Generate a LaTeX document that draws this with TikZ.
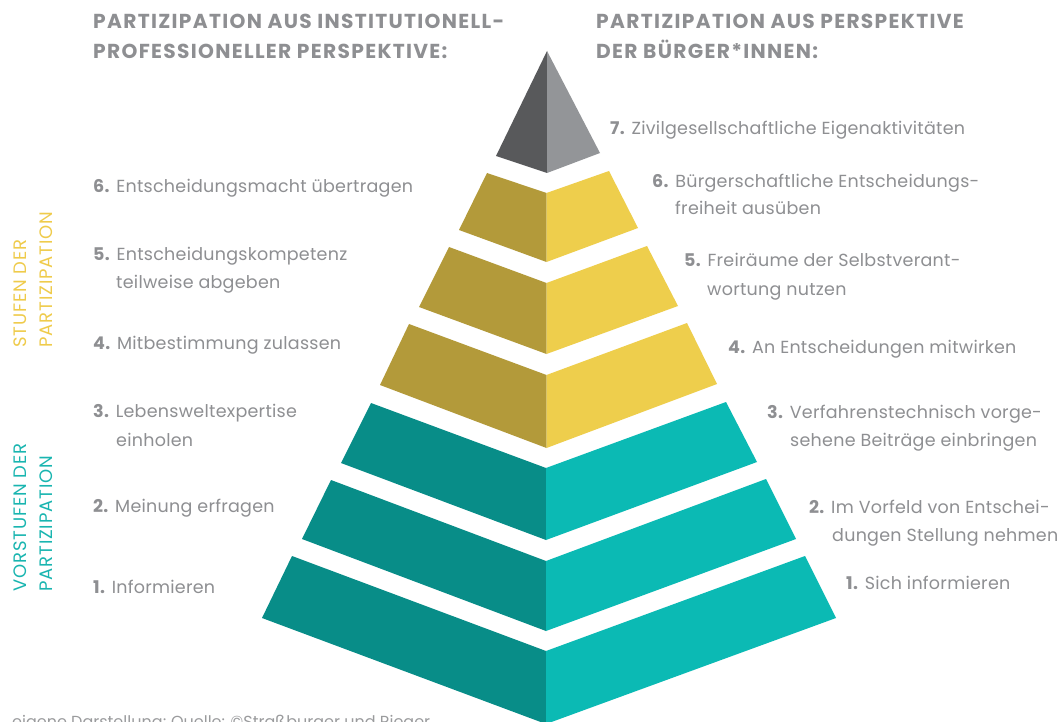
\documentclass[tikz,border=0pt]{standalone}
\usepackage{fontspec}
\setmainfont{Poppins}
\newfontfamily\bodyfont[LetterSpace=1.5]{Poppins}
\newfontfamily\headfont[LetterSpace=6.5]{Poppins}
\newfontfamily\sidefont[LetterSpace=5]{Poppins}
\definecolor{grayD}{HTML}{58595B}
\definecolor{grayL}{HTML}{939598}
\definecolor{goldD}{HTML}{B39A3A}
\definecolor{goldL}{HTML}{EECE4C}
\definecolor{tealD}{HTML}{088D88}
\definecolor{tealL}{HTML}{0BBAB4}
\definecolor{txtgray}{HTML}{8E8F92}
\definecolor{capgray}{HTML}{9A9B9D}
\definecolor{labyellow}{HTML}{EFCB4B}
\definecolor{labteal}{HTML}{19B5B0}
\begin{document}
\begin{tikzpicture}[x=1pt,y=-1pt,
  lab/.style={anchor=base west, inner sep=0pt, text=txtgray, font=\bodyfont\fontsize{17.5}{20}\selectfont},
  head/.style={anchor=base west, inner sep=0pt, text=txtgray, font=\headfont\fontsize{20.2}{22}\selectfont\bfseries},
  side/.style={anchor=base west, inner sep=0pt, rotate=90, font=\sidefont\fontsize{18}{20}\selectfont},
  captext/.style={anchor=base west, inner sep=0pt, text=capgray, font=\fontsize{16}{18}\selectfont}]
\useasboundingbox (0,0) rectangle (1061,722);
\fill[white] (0,0) rectangle (1061,722);
% apex
\fill[grayD] (547,51) -- (496,156) -- (547,173) -- cycle;
\fill[grayL] (547,51) -- (547,173) -- (600,153) -- cycle;
% tier 6
\fill[goldD] (487,173) -- (546.5,193) -- (546.5,262) -- (459,230) -- cycle;
\fill[goldL] (546.5,193) -- (609,171) -- (638,228) -- (546.5,262) -- cycle;
% tier 5
\fill[goldD] (449,247) -- (546.5,283) -- (546.5,354) -- (419,307) -- cycle;
\fill[goldL] (546.5,283) -- (647,246) -- (678,306) -- (546.5,354) -- cycle;
% tier 4
\fill[goldD] (409,324) -- (546.5,375) -- (546.5,448) -- (380,385) -- cycle;
\fill[goldL] (546.5,375) -- (687,323) -- (717,384) -- (546.5,448) -- cycle;
% tier 3
\fill[tealD] (371,403) -- (546,468) -- (546,540) -- (341,463) -- cycle;
\fill[tealL] (546,468) -- (726,402) -- (757,462) -- (546,540) -- cycle;
% tier 2
\fill[tealD] (331,480) -- (546,561) -- (546,631) -- (302,539) -- cycle;
\fill[tealL] (546,561) -- (766,479) -- (796,539) -- (546,631) -- cycle;
% tier 1
\fill[tealD] (292,556) -- (546,651) -- (546,724) -- (262,618) -- cycle;
\fill[tealL] (546,651) -- (805,556) -- (836,618) -- (546,724) -- cycle;
% headers
\node[head] (hl1) at (93,29) {PARTIZIPATION AUS INSTITUTIONELL-};
\node[head] (hl2) at (93,58.5) {PROFESSIONELLER PERSPEKTIVE:};
\node[head] (hr1) at (596,29) {PARTIZIPATION AUS PERSPEKTIVE};
\node[head] (hr2) at (596,58.5) {DER BÜRGER*INNEN:};
% left labels
\node[lab] (l6) at (93,193) {\textbf{6.} Entscheidungsmacht übertragen};
\node[lab] (l5a) at (93,261) {\textbf{5.} Entscheidungskompetenz};
\node[lab] (l5b) at (116,289) {teilweise abgeben};
\node[lab] (l4) at (93,349) {\textbf{4.} Mitbestimmung zulassen};
\node[lab] (l3a) at (93,417) {\textbf{3.} Lebensweltexpertise};
\node[lab] (l3b) at (116,446) {einholen};
\node[lab] (l2) at (93,512) {\textbf{2.} Meinung erfragen};
\node[lab] (l1) at (93,593) {\textbf{1.} Informieren};
% right labels
\node[lab] (r7) at (610,135) {\textbf{7.} Zivilgesellschaftliche Eigenaktivitäten};
\node[lab] (r6a) at (652,188) {\textbf{6.} Bürgerschaftliche Entscheidungs-};
\node[lab] (r6b) at (675,215) {freiheit ausüben};
\node[lab] (r5a) at (684,267) {\textbf{5.} Freiräume der Selbstverant-};
\node[lab] (r5b) at (707,295) {wortung nutzen};
\node[lab] (r4) at (728,353) {\textbf{4.} An Entscheidungen mitwirken};
\node[lab] (r3a) at (767,418) {\textbf{3.} Verfahrenstechnisch vorge-};
\node[lab] (r3b) at (790,446) {sehene Beiträge einbringen};
\node[lab] (r2a) at (809,513) {\textbf{2.} Im Vorfeld von Entschei-};
\node[lab] (r2b) at (832,541) {dungen Stellung nehmen};
\node[lab] (r1) at (846,589) {\textbf{1.} Sich informieren};
% side labels
\node[side, text=labyellow] (s1a) at (27,348) {STUFEN DER};
\node[side, text=labyellow] (s1b) at (52,348) {PARTIZIPATION};
\node[side, text=labteal] (s2a) at (27,592) {VORSTUFEN DER};
\node[side, text=labteal] (s2b) at (52,592) {PARTIZIPATION};
% caption
\node[captext] (capt) at (12,727) {eigene Darstellung; Quelle: ©Straßburger und Rieger};
\end{tikzpicture}
\end{document}
